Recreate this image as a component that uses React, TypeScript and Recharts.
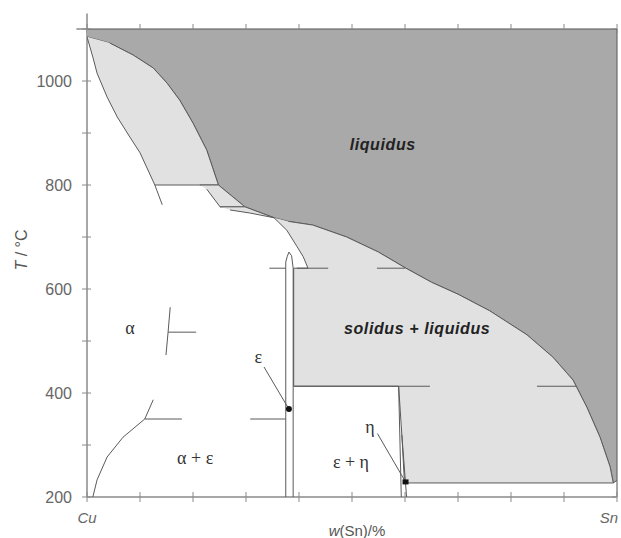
// Cu–Sn phase diagram: temperature vs. mass fraction of tin.
// Regions are closed Scatter "lines" with a fill; boundaries are open ones.

import { ScatterChart, Scatter, XAxis, YAxis, ReferenceLine } from 'recharts'

type Pt = [number, number] // [w(Sn) in %, T in °C]

const xTicks = [0, 10, 20, 30, 40, 50, 60, 70, 80, 90, 100]
const yTicks = [200, 300, 400, 500, 600, 700, 800, 900, 1000, 1100]
const yLabelled = [200, 400, 600, 800, 1000]

// liquidus, Cu side to Sn side
const liquidus: Pt[] = [
  [0, 1085], [4.3, 1073], [8.7, 1050], [12.5, 1025], [15.1, 996], [17.5, 963],
  [20, 919], [22.6, 867], [24.8, 800], [29.8, 758], [35.3, 737], [38, 730],
  [42.6, 723], [49, 700], [55, 671], [60, 641], [65, 613], [70, 590], [76, 558],
  [83, 512], [87.9, 469], [91.7, 425], [94.3, 373], [96.8, 315], [98.7, 258],
  [99.3, 227], [100, 232],
]
const liquidArea: Pt[] = [...liquidus, [100, 1100], [0, 1100]]

// two-phase (solid + liquid) fields
const alphaL: Pt[] = [
  [0, 1085], [1.1, 1046], [1.9, 1015], [3.8, 969], [5.7, 931], [8.1, 892],
  [10, 862], [12.8, 800], [24.8, 800], [22.6, 867], [20, 919], [17.5, 963],
  [15.1, 996], [12.5, 1025], [8.7, 1050], [4.3, 1073],
]
const betaL: Pt[] = [[21.3, 800], [24.8, 800], [29.8, 758], [25.1, 758], [22.6, 792]]
const gammaL: Pt[] = [[25.1, 758], [29.8, 758], [35.3, 737], [30.8, 746], [27, 752]]
const mainL: Pt[] = [
  [35.3, 737], [37.7, 713], [39.6, 682], [40.8, 662], [41.7, 640], [39, 640],
  [39, 413], [58.8, 413], [59.4, 320], [59.9, 227], [99.3, 227], [98.7, 258],
  [96.8, 315], [94.3, 373], [91.7, 425], [87.9, 469], [83, 512], [76, 558],
  [70, 590], [65, 613], [60, 641], [55, 671], [49, 700], [42.6, 723], [38, 730],
]

// other phase boundaries and invariant lines
const boundaries: Pt[][] = [
  [[12.8, 800], [14.2, 762]],
  [[15.7, 565], [15.3, 517], [14.9, 473]],
  [[15.3, 517], [20.6, 517]],
  [[12.5, 387], [10.9, 350], [6.8, 315], [3.8, 277], [1.9, 233], [1.1, 200]],
  [[10.9, 350], [17.9, 350]],
  [[30.8, 350], [37.5, 350]],
  [[37.5, 200], [37.5, 652], [37.8, 663], [38.1, 671], [38.6, 664], [38.9, 640], [38.9, 200]],
  [[34.4, 640], [37.5, 640]],
  [[39.6, 640], [45.5, 640]],
  [[54.7, 640], [60, 640]],
  [[39, 413], [64.7, 413]],
  [[84.9, 413], [92.3, 413]],
  [[58.8, 413], [59.3, 200]],
  [[59.4, 320], [60.3, 200]],
  [[33.4, 450], [38.1, 369]],
  [[54.8, 322], [60.1, 229]],
]

const epsilonDot: Pt[] = [[38.1, 369]]
const etaSquare: Pt[] = [[60.1, 229]]

const phaseLabels = [
  { w: 55.8, T: 877, text: 'liquidus' },
  { w: 62.3, T: 525, text: 'solidus + liquidus' },
]
const greekLabels = [
  { w: 8.1, T: 525, text: 'α' },
  { w: 20.4, T: 275, text: 'α + ε' },
  { w: 49.8, T: 267, text: 'ε + η' },
  { w: 32.3, T: 469, text: 'ε' },
  { w: 53.4, T: 335, text: 'η' },
]

const DARK = '#a9a9a9'
const LIGHT = '#e1e1e1'
const LINE = '#5a5a5a'
const AXIS = '#8a8a8a'
const SANS = '"Liberation Sans", Arial, sans-serif'
const SERIF = '"Liberation Serif", "DejaVu Serif", serif'

const toPts = (a: Pt[]) => a.map(([w, T]) => ({ w, T }))
const noShape = () => <g />

// every axis gets at least one series, otherwise recharts skips drawing it
function region(key: string, pts: Pt[], fill: string, xId: any = 0, yId: any = 0) {
  return (
    <Scatter
      key={key}
      data={toPts(pts)}
      xAxisId={xId}
      yAxisId={yId}
      shape={noShape}
      line={{ fill, stroke: LINE, strokeWidth: 1 }}
      isAnimationActive={false}
    />
  )
}

function boundary(key: string, pts: Pt[]) {
  return (
    <Scatter
      key={key}
      data={toPts(pts)}
      shape={noShape}
      line={{ fill: 'none', stroke: LINE, strokeWidth: 1 }}
      isAnimationActive={false}
    />
  )
}

function XTick({ x, y, payload }: any) {
  const v = payload?.value
  const txt = v === 0 ? 'Cu' : v === 100 ? 'Sn' : ''
  if (!txt) return <g />
  return (
    <text x={x} y={y + 13} textAnchor="middle" dominantBaseline="central"
      fontSize={15} fontStyle="italic" fill="#666" fontFamily={SANS}>
      {txt}
    </text>
  )
}

function XTitle({ viewBox }: any) {
  const x = viewBox.x + viewBox.width / 2 + 5
  const y = viewBox.y + 33
  return (
    <text x={x} y={y} textAnchor="middle" dominantBaseline="central"
      fontSize={15} fill="#555" fontFamily={SANS}>
      <tspan fontStyle="italic">w</tspan>(Sn)/%
    </text>
  )
}

function YTitle({ viewBox }: any) {
  const x = viewBox.x + 21
  const y = viewBox.y + 221
  return (
    <text x={x} y={y} textAnchor="middle" dominantBaseline="central"
      transform={`rotate(-90 ${x} ${y})`} fontSize={16} fill="#555" fontFamily={SANS}>
      <tspan fontStyle="italic">T</tspan> / °C
    </text>
  )
}

export default function App() {
  const blank = () => ''
  const tickLine = { stroke: AXIS, strokeWidth: 1 }
  const axisLine = { stroke: AXIS, strokeWidth: 1.5 }
  return (
    <div style={{ position: 'absolute', left: 0, top: 0, width: 621, height: 538, background: '#fff' }}>
      <ScatterChart width={621} height={538} margin={{ top: 24, right: 4, bottom: 0, left: 0 }}>
        {region('liq', liquidArea, DARK, 't', 'r')}
        {region('aL', alphaL, LIGHT, 't2', 'l2')}
        {region('bL', betaL, LIGHT, 'b2', 0)}
        {region('gL', gammaL, LIGHT)}
        {region('mL', mainL, LIGHT)}
        {boundaries.map((b, i) => boundary(`b${i}`, b))}

        <Scatter
          data={toPts(epsilonDot)} isAnimationActive={false}
          shape={(p: any) => <circle cx={p.cx} cy={p.cy} r={3} fill="#111" />}
        />
        <Scatter
          data={toPts(etaSquare)} isAnimationActive={false}
          shape={(p: any) => <rect x={p.cx - 3} y={p.cy - 2.5} width={6} height={5} fill="#111" />}
        />
        <Scatter
          data={phaseLabels} isAnimationActive={false}
          shape={(p: any) => (
            <text x={p.cx} y={p.cy} textAnchor="middle" dominantBaseline="central"
              fontSize={16} fontWeight="bold" fontStyle="italic" letterSpacing={0.6}
              fill="#222" fontFamily={SANS}>
              {p.payload.text}
            </text>
          )}
        />
        <Scatter
          data={greekLabels} isAnimationActive={false}
          shape={(p: any) => (
            <text x={p.cx} y={p.cy} textAnchor="middle" dominantBaseline="central"
              fontSize={18} fill="#333" fontFamily={SERIF}>
              {p.payload.text}
            </text>
          )}
        />

        {/* axis lines run a little past the top-left corner, as in the source figure */}
        <ReferenceLine
          segment={[{ x: 0, y: 1100 }, { x: 0, y: 1130 }]}
          stroke={AXIS} strokeWidth={1.5} ifOverflow="visible"
        />
        <ReferenceLine
          segment={[{ x: -2, y: 1100 }, { x: 0, y: 1100 }]}
          stroke={AXIS} strokeWidth={1.5} ifOverflow="visible"
        />

        <XAxis
          xAxisId={0} dataKey="w" type="number" domain={[0, 100]} ticks={xTicks}
          allowDataOverflow height={41} tickSize={5} tick={<XTick />}
          axisLine={axisLine} tickLine={tickLine} stroke={AXIS}
          label={<XTitle />}
        />
        <XAxis
          xAxisId="b2" dataKey="w" type="number" domain={[0, 100]} ticks={xTicks} allowDataOverflow
          mirror tickSize={5} tickFormatter={blank} axisLine={false} tickLine={tickLine} stroke={AXIS}
        />
        <XAxis
          xAxisId="t" dataKey="w" orientation="top" type="number" domain={[0, 100]} ticks={xTicks}
          allowDataOverflow height={5} tickSize={5} tickFormatter={blank}
          axisLine={axisLine} tickLine={tickLine} stroke={AXIS}
        />
        <XAxis
          xAxisId="t2" dataKey="w" orientation="top" type="number" domain={[0, 100]} ticks={xTicks}
          allowDataOverflow mirror tickSize={4} tickFormatter={blank} axisLine={false}
          tickLine={tickLine} stroke={AXIS}
        />
        <YAxis
          yAxisId={0} dataKey="T" type="number" domain={[200, 1100]} ticks={yTicks}
          allowDataOverflow width={87} tickSize={5} tickMargin={10}
          tickFormatter={(v: number) => (yLabelled.includes(v) ? String(v) : '')}
          tick={{ fontSize: 16, fill: '#666', fontFamily: SANS }}
          axisLine={axisLine} tickLine={tickLine} stroke={AXIS}
          label={<YTitle />}
        />
        <YAxis
          yAxisId="l2" dataKey="T" type="number" domain={[200, 1100]} ticks={yTicks} allowDataOverflow
          mirror tickSize={4} tickFormatter={blank} axisLine={false} tickLine={tickLine} stroke={AXIS}
        />
        <YAxis
          yAxisId="r" dataKey="T" orientation="right" type="number" domain={[200, 1100]} ticks={yTicks}
          allowDataOverflow mirror tickSize={5} tickFormatter={blank}
          axisLine={axisLine} tickLine={tickLine} stroke={AXIS}
        />
      </ScatterChart>
    </div>
  )
}
